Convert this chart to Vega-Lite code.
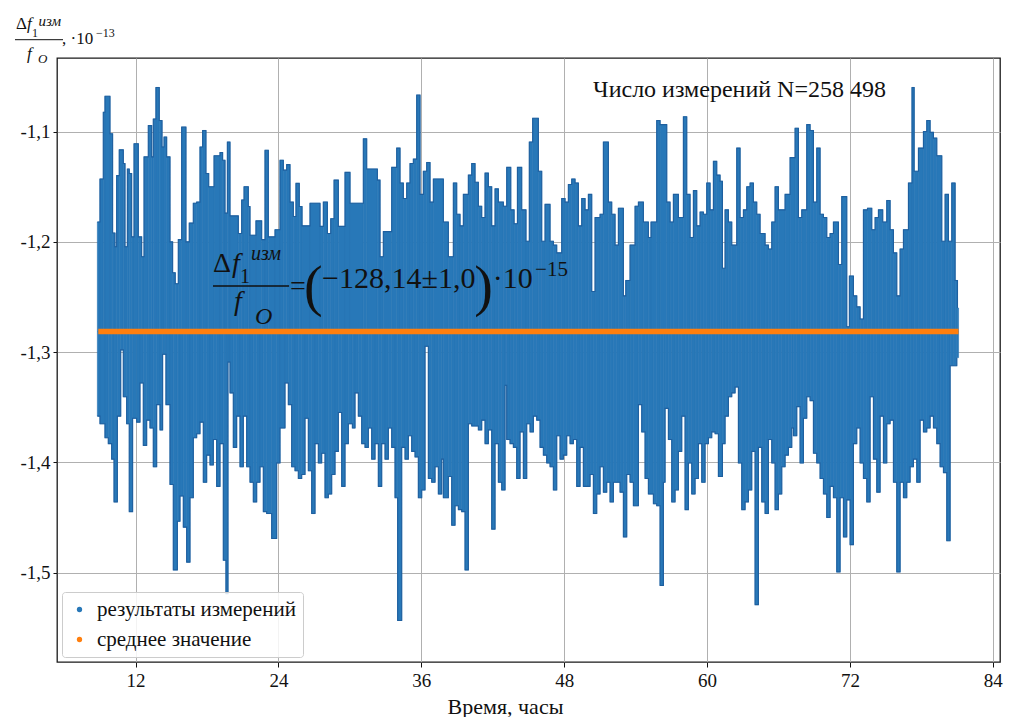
{
"$schema": "https://vega.github.io/schema/vega-lite/v6.json",
"width": 943, "height": 604,
"autosize": {"type": "none"},
"padding": {"left": 57, "top": 58, "right": 9, "bottom": 55},
"background": "white",
"config": {
  "view": {"stroke": "#1a1a1a", "strokeWidth": 1.3},
  "font": "Liberation Serif",
  "axis": {"labelFont": "Liberation Serif", "labelColor": "#111111", "labelFontSize": 19, "gridColor": "#b0b0b0", "gridWidth": 1, "domain": false, "tickColor": "#111111", "tickSize": 5, "tickWidth": 1}
},
"datasets": {
"one": [{"k": 1}],
"upper": [
{"t0":8.79,"t1":9.01,"v":-1.182},{"t0":9.01,"t1":9.29,"v":-1.143},{"t0":9.29,"t1":9.43,"v":-1.0825},{"t0":9.43,"t1":9.85,"v":-1.068},{"t0":9.85,"t1":10.07,"v":-1.102},{"t0":10.07,"t1":10.27,"v":-1.192},{"t0":10.27,"t1":10.41,"v":-1.2045},{"t0":10.41,"t1":10.63,"v":-1.14},{"t0":10.63,"t1":10.97,"v":-1.1166},{"t0":10.97,"t1":11.11,"v":-1.129},{"t0":11.11,"t1":11.31,"v":-1.2045},{"t0":11.31,"t1":11.47,"v":-1.134},{"t0":11.47,"t1":11.67,"v":-1.138},{"t0":11.67,"t1":11.87,"v":-1.1955},{"t0":11.87,"t1":12.23,"v":-1.111},{"t0":12.23,"t1":12.51,"v":-1.1955},{"t0":12.51,"t1":12.71,"v":-1.2135},{"t0":12.71,"t1":13.07,"v":-1.123},{"t0":13.07,"t1":13.35,"v":-1.0946},{"t0":13.35,"t1":13.49,"v":-1.123},{"t0":13.49,"t1":13.71,"v":-1.0886},{"t0":13.71,"t1":13.99,"v":-1.06},{"t0":13.99,"t1":14.22,"v":-1.09},{"t0":14.22,"t1":14.39,"v":-1.114},{"t0":14.39,"t1":14.61,"v":-1.105},{"t0":14.61,"t1":14.89,"v":-1.123},{"t0":14.89,"t1":15.11,"v":-1.2},{"t0":15.11,"t1":15.33,"v":-1.228},{"t0":15.33,"t1":15.59,"v":-1.238},{"t0":15.59,"t1":15.87,"v":-1.198},{"t0":15.87,"t1":16.23,"v":-1.096},{"t0":16.23,"t1":16.51,"v":-1.2},{"t0":16.51,"t1":16.85,"v":-1.183},{"t0":16.85,"t1":17.13,"v":-1.165},{"t0":17.13,"t1":17.41,"v":-1.164},{"t0":17.41,"t1":17.63,"v":-1.114},{"t0":17.63,"t1":17.91,"v":-1.099},{"t0":17.91,"t1":18.14,"v":-1.138},{"t0":18.14,"t1":18.59,"v":-1.15},{"t0":18.59,"t1":19.09,"v":-1.122},{"t0":19.09,"t1":19.31,"v":-1.119},{"t0":19.31,"t1":19.51,"v":-1.126},{"t0":19.51,"t1":19.71,"v":-1.174},{"t0":19.71,"t1":19.93,"v":-1.1096},{"t0":19.93,"t1":20.63,"v":-1.1765},{"t0":20.63,"t1":20.91,"v":-1.1925},{"t0":20.91,"t1":21.11,"v":-1.162},{"t0":21.11,"t1":21.47,"v":-1.15},{"t0":21.47,"t1":21.61,"v":-1.168},{"t0":21.61,"t1":22.11,"v":-1.194},{"t0":22.11,"t1":22.59,"v":-1.181},{"t0":22.59,"t1":22.87,"v":-1.198},{"t0":22.87,"t1":23.15,"v":-1.117},{"t0":23.15,"t1":23.71,"v":-1.1955},{"t0":23.71,"t1":24.13,"v":-1.189},{"t0":24.13,"t1":24.41,"v":-1.126},{"t0":24.41,"t1":24.69,"v":-1.135},{"t0":24.69,"t1":24.97,"v":-1.13},{"t0":24.97,"t1":25.25,"v":-1.164},{"t0":25.25,"t1":25.47,"v":-1.177},{"t0":25.47,"t1":25.75,"v":-1.147},{"t0":25.75,"t1":25.98,"v":-1.168},{"t0":25.98,"t1":26.65,"v":-1.1855},{"t0":26.65,"t1":27.49,"v":-1.165},{"t0":27.49,"t1":27.77,"v":-1.186},{"t0":27.77,"t1":28.11,"v":-1.164},{"t0":28.11,"t1":28.39,"v":-1.1925},{"t0":28.39,"t1":28.67,"v":-1.179},{"t0":28.67,"t1":29.03,"v":-1.144},{"t0":29.03,"t1":29.59,"v":-1.186},{"t0":29.59,"t1":30.01,"v":-1.137},{"t0":30.01,"t1":31.13,"v":-1.165},{"t0":31.13,"t1":31.41,"v":-1.1066},{"t0":31.41,"t1":32.31,"v":-1.134},{"t0":32.31,"t1":32.53,"v":-1.144},{"t0":32.53,"t1":32.81,"v":-1.2135},{"t0":32.81,"t1":33.51,"v":-1.1907},{"t0":33.51,"t1":33.93,"v":-1.1325},{"t0":33.93,"t1":34.21,"v":-1.115},{"t0":34.21,"t1":34.49,"v":-1.1466},{"t0":34.49,"t1":34.77,"v":-1.1607},{"t0":34.77,"t1":35.05,"v":-1.1466},{"t0":35.05,"t1":35.33,"v":-1.129},{"t0":35.33,"t1":35.61,"v":-1.125},{"t0":35.61,"t1":35.89,"v":-1.067},{"t0":35.89,"t1":36.17,"v":-1.157},{"t0":36.17,"t1":36.45,"v":-1.136},{"t0":36.45,"t1":36.73,"v":-1.128},{"t0":36.73,"t1":37.01,"v":-1.164},{"t0":37.01,"t1":37.85,"v":-1.143},{"t0":37.85,"t1":38.27,"v":-1.182},{"t0":38.27,"t1":38.69,"v":-1.2135},{"t0":38.69,"t1":38.97,"v":-1.1466},{"t0":38.97,"t1":39.25,"v":-1.175},{"t0":39.25,"t1":39.53,"v":-1.1855},{"t0":39.53,"t1":39.95,"v":-1.157},{"t0":39.95,"t1":40.23,"v":-1.1395},{"t0":40.23,"t1":40.51,"v":-1.129},{"t0":40.51,"t1":40.79,"v":-1.146},{"t0":40.79,"t1":41.07,"v":-1.1677},{"t0":41.07,"t1":41.35,"v":-1.178},{"t0":41.35,"t1":41.63,"v":-1.1377},{"t0":41.63,"t1":41.91,"v":-1.15},{"t0":41.91,"t1":42.19,"v":-1.1855},{"t0":42.19,"t1":42.47,"v":-1.152},{"t0":42.47,"t1":42.89,"v":-1.164},{"t0":42.89,"t1":43.17,"v":-1.1677},{"t0":43.17,"t1":43.51,"v":-1.1325},{"t0":43.51,"t1":43.79,"v":-1.171},{"t0":43.79,"t1":44.07,"v":-1.1836},{"t0":44.07,"t1":44.43,"v":-1.1325},{"t0":44.43,"t1":44.79,"v":-1.171},{"t0":44.79,"t1":45.07,"v":-1.1995},{"t0":45.07,"t1":45.35,"v":-1.1095},{"t0":45.35,"t1":45.83,"v":-1.088},{"t0":45.83,"t1":46.11,"v":-1.136},{"t0":46.11,"t1":46.39,"v":-1.1995},{"t0":46.39,"t1":46.81,"v":-1.166},{"t0":46.81,"t1":47.09,"v":-1.1995},{"t0":47.09,"t1":47.37,"v":-1.203},{"t0":47.37,"t1":47.79,"v":-1.21},{"t0":47.79,"t1":48.07,"v":-1.1607},{"t0":48.07,"t1":48.35,"v":-1.164},{"t0":48.35,"t1":48.63,"v":-1.148},{"t0":48.63,"t1":48.91,"v":-1.143},{"t0":48.91,"t1":49.19,"v":-1.1466},{"t0":49.19,"t1":49.47,"v":-1.1855},{"t0":49.47,"t1":49.75,"v":-1.1607},{"t0":49.75,"t1":50.03,"v":-1.171},{"t0":50.03,"t1":50.31,"v":-1.157},{"t0":50.31,"t1":50.59,"v":-1.245},{"t0":50.59,"t1":51.01,"v":-1.178},{"t0":51.01,"t1":51.29,"v":-1.175},{"t0":51.29,"t1":51.71,"v":-1.1095},{"t0":51.71,"t1":51.99,"v":-1.164},{"t0":51.99,"t1":52.27,"v":-1.175},{"t0":52.27,"t1":52.55,"v":-1.203},{"t0":52.55,"t1":52.97,"v":-1.1695},{"t0":52.97,"t1":53.17,"v":-1.249},{"t0":53.17,"t1":53.53,"v":-1.235},{"t0":53.53,"t1":53.95,"v":-1.203},{"t0":53.95,"t1":54.23,"v":-1.1677},{"t0":54.23,"t1":54.65,"v":-1.164},{"t0":54.65,"t1":55.07,"v":-1.182},{"t0":55.07,"t1":55.29,"v":-1.196},{"t0":55.29,"t1":55.77,"v":-1.182},{"t0":55.77,"t1":56.05,"v":-1.09},{"t0":56.05,"t1":56.61,"v":-1.0937},{"t0":56.61,"t1":56.89,"v":-1.164},{"t0":56.89,"t1":57.17,"v":-1.182},{"t0":57.17,"t1":57.59,"v":-1.157},{"t0":57.59,"t1":58.01,"v":-1.178},{"t0":58.01,"t1":58.29,"v":-1.0866},{"t0":58.29,"t1":58.57,"v":-1.157},{"t0":58.57,"t1":58.85,"v":-1.196},{"t0":58.85,"t1":59.13,"v":-1.1536},{"t0":59.13,"t1":59.41,"v":-1.1855},{"t0":59.41,"t1":59.69,"v":-1.173},{"t0":59.69,"t1":59.97,"v":-1.175},{"t0":59.97,"t1":60.25,"v":-1.1466},{"t0":60.25,"t1":60.53,"v":-1.171},{"t0":60.53,"t1":60.81,"v":-1.127},{"t0":60.81,"t1":61.09,"v":-1.1395},{"t0":61.09,"t1":61.29,"v":-1.145},{"t0":61.29,"t1":61.51,"v":-1.224},{"t0":61.51,"t1":61.79,"v":-1.171},{"t0":61.79,"t1":62.07,"v":-1.182},{"t0":62.07,"t1":62.49,"v":-1.203},{"t0":62.49,"t1":62.77,"v":-1.115},{"t0":62.77,"t1":63.05,"v":-1.178},{"t0":63.05,"t1":63.33,"v":-1.171},{"t0":63.33,"t1":63.61,"v":-1.15},{"t0":63.61,"t1":63.89,"v":-1.1466},{"t0":63.89,"t1":64.17,"v":-1.164},{"t0":64.17,"t1":64.45,"v":-1.175},{"t0":64.45,"t1":64.87,"v":-1.1925},{"t0":64.87,"t1":65.15,"v":-1.203},{"t0":65.15,"t1":65.43,"v":-1.2065},{"t0":65.43,"t1":65.71,"v":-1.182},{"t0":65.71,"t1":65.99,"v":-1.15},{"t0":65.99,"t1":66.55,"v":-1.171},{"t0":66.55,"t1":66.97,"v":-1.157},{"t0":66.97,"t1":67.39,"v":-1.1236},{"t0":67.39,"t1":67.67,"v":-1.097},{"t0":67.67,"t1":67.95,"v":-1.178},{"t0":67.95,"t1":68.37,"v":-1.171},{"t0":68.37,"t1":68.65,"v":-1.0937},{"t0":68.65,"t1":68.93,"v":-1.099},{"t0":68.93,"t1":69.21,"v":-1.164},{"t0":69.21,"t1":69.49,"v":-1.115},{"t0":69.49,"t1":69.77,"v":-1.175},{"t0":69.77,"t1":70.05,"v":-1.178},{"t0":70.05,"t1":70.33,"v":-1.196},{"t0":70.33,"t1":70.61,"v":-1.1925},{"t0":70.61,"t1":71.03,"v":-1.182},{"t0":71.03,"t1":71.31,"v":-1.2205},{"t0":71.31,"t1":71.73,"v":-1.159},{"t0":71.73,"t1":71.95,"v":-1.277},{"t0":71.95,"t1":72.29,"v":-1.231},{"t0":72.29,"t1":72.57,"v":-1.249},{"t0":72.57,"t1":72.85,"v":-1.259},{"t0":72.85,"t1":73.13,"v":-1.27},{"t0":73.13,"t1":73.47,"v":-1.171},{"t0":73.47,"t1":73.83,"v":-1.1695},{"t0":73.83,"t1":74.11,"v":-1.189},{"t0":74.11,"t1":74.39,"v":-1.178},{"t0":74.39,"t1":74.75,"v":-1.171},{"t0":74.75,"t1":75.09,"v":-1.182},{"t0":75.09,"t1":75.37,"v":-1.1625},{"t0":75.37,"t1":75.65,"v":-1.189},{"t0":75.65,"t1":75.93,"v":-1.21},{"t0":75.93,"t1":76.21,"v":-1.249},{"t0":76.21,"t1":76.49,"v":-1.2065},{"t0":76.49,"t1":76.91,"v":-1.189},{"t0":76.91,"t1":77.21,"v":-1.1466},{"t0":77.21,"t1":77.39,"v":-1.06},{"t0":77.39,"t1":77.75,"v":-1.136},{"t0":77.75,"t1":78.17,"v":-1.115},{"t0":78.17,"t1":78.45,"v":-1.1},{"t0":78.45,"t1":78.73,"v":-1.09},{"t0":78.73,"t1":79.01,"v":-1.1007},{"t0":79.01,"t1":79.29,"v":-1.106},{"t0":79.29,"t1":79.71,"v":-1.122},{"t0":79.71,"t1":79.99,"v":-1.1995},{"t0":79.99,"t1":80.27,"v":-1.157},{"t0":80.27,"t1":80.55,"v":-1.1995},{"t0":80.55,"t1":80.83,"v":-1.1466},{"t0":80.83,"t1":81.03,"v":-1.235},{"t0":81.03,"t1":81.12,"v":-1.26}
],
"lower": [
{"t0":8.79,"t1":9.01,"v":-1.358},{"t0":9.01,"t1":9.43,"v":-1.365},{"t0":9.43,"t1":9.71,"v":-1.3776},{"t0":9.71,"t1":9.99,"v":-1.383},{"t0":9.99,"t1":10.19,"v":-1.397},{"t0":10.19,"t1":10.47,"v":-1.4358},{"t0":10.47,"t1":10.75,"v":-1.358},{"t0":10.75,"t1":10.97,"v":-1.298},{"t0":10.97,"t1":11.25,"v":-1.3405},{"t0":11.25,"t1":11.47,"v":-1.365},{"t0":11.47,"t1":11.75,"v":-1.4446},{"t0":11.75,"t1":12.09,"v":-1.36},{"t0":12.09,"t1":12.37,"v":-1.3635},{"t0":12.37,"t1":12.65,"v":-1.328},{"t0":12.65,"t1":12.93,"v":-1.3846},{"t0":12.93,"t1":13.21,"v":-1.3617},{"t0":13.21,"t1":13.49,"v":-1.3688},{"t0":13.49,"t1":13.77,"v":-1.404},{"t0":13.77,"t1":14.05,"v":-1.3476},{"t0":14.05,"t1":14.27,"v":-1.3705},{"t0":14.27,"t1":14.55,"v":-1.302},{"t0":14.55,"t1":14.89,"v":-1.3476},{"t0":14.89,"t1":15.17,"v":-1.42},{"t0":15.17,"t1":15.51,"v":-1.4975},{"t0":15.51,"t1":15.73,"v":-1.4534},{"t0":15.73,"t1":16.01,"v":-1.4305},{"t0":16.01,"t1":16.29,"v":-1.4587},{"t0":16.29,"t1":16.57,"v":-1.4904},{"t0":16.57,"t1":16.85,"v":-1.432},{"t0":16.85,"t1":17.13,"v":-1.3776},{"t0":17.13,"t1":17.41,"v":-1.374},{"t0":17.41,"t1":17.69,"v":-1.3635},{"t0":17.69,"t1":17.97,"v":-1.418},{"t0":17.97,"t1":18.25,"v":-1.3934},{"t0":18.25,"t1":18.53,"v":-1.4023},{"t0":18.53,"t1":18.81,"v":-1.3793},{"t0":18.81,"t1":19.09,"v":-1.4217},{"t0":19.09,"t1":19.37,"v":-1.383},{"t0":19.37,"t1":19.59,"v":-1.4887},{"t0":19.59,"t1":19.76,"v":-1.519},{"t0":19.76,"t1":19.93,"v":-1.309},{"t0":19.93,"t1":20.21,"v":-1.337},{"t0":20.21,"t1":20.49,"v":-1.3864},{"t0":20.49,"t1":20.77,"v":-1.358},{"t0":20.77,"t1":21.05,"v":-1.404},{"t0":21.05,"t1":21.33,"v":-1.358},{"t0":21.33,"t1":21.61,"v":-1.404},{"t0":21.61,"t1":21.89,"v":-1.418},{"t0":21.89,"t1":22.17,"v":-1.4358},{"t0":22.17,"t1":22.45,"v":-1.418},{"t0":22.45,"t1":22.73,"v":-1.404},{"t0":22.73,"t1":23.01,"v":-1.4446},{"t0":23.01,"t1":23.43,"v":-1.4464},{"t0":23.43,"t1":23.85,"v":-1.469},{"t0":23.85,"t1":24.13,"v":-1.4005},{"t0":24.13,"t1":24.55,"v":-1.3688},{"t0":24.55,"t1":24.83,"v":-1.328},{"t0":24.83,"t1":25.11,"v":-1.3476},{"t0":25.11,"t1":25.39,"v":-1.404},{"t0":25.39,"t1":25.67,"v":-1.4076},{"t0":25.67,"t1":25.95,"v":-1.4146},{"t0":25.95,"t1":26.23,"v":-1.411},{"t0":26.23,"t1":26.51,"v":-1.36},{"t0":26.51,"t1":26.79,"v":-1.4076},{"t0":26.79,"t1":27.07,"v":-1.4464},{"t0":27.07,"t1":27.35,"v":-1.383},{"t0":27.35,"t1":27.63,"v":-1.4005},{"t0":27.63,"t1":27.91,"v":-1.3917},{"t0":27.91,"t1":28.19,"v":-1.432},{"t0":28.19,"t1":28.47,"v":-1.4287},{"t0":28.47,"t1":28.75,"v":-1.411},{"t0":28.75,"t1":29.03,"v":-1.39},{"t0":29.03,"t1":29.31,"v":-1.3547},{"t0":29.31,"t1":29.59,"v":-1.4217},{"t0":29.59,"t1":29.87,"v":-1.383},{"t0":29.87,"t1":30.21,"v":-1.365},{"t0":30.21,"t1":30.43,"v":-1.3688},{"t0":30.43,"t1":30.71,"v":-1.337},{"t0":30.71,"t1":30.99,"v":-1.358},{"t0":30.99,"t1":31.27,"v":-1.383},{"t0":31.27,"t1":31.55,"v":-1.3864},{"t0":31.55,"t1":31.83,"v":-1.3688},{"t0":31.83,"t1":32.11,"v":-1.397},{"t0":32.11,"t1":32.39,"v":-1.383},{"t0":32.39,"t1":32.67,"v":-1.4217},{"t0":32.67,"t1":32.95,"v":-1.383},{"t0":32.95,"t1":33.23,"v":-1.397},{"t0":33.23,"t1":33.51,"v":-1.3688},{"t0":33.51,"t1":33.79,"v":-1.3864},{"t0":33.79,"t1":34.01,"v":-1.432},{"t0":34.01,"t1":34.35,"v":-1.5433},{"t0":34.35,"t1":34.63,"v":-1.3864},{"t0":34.63,"t1":34.91,"v":-1.397},{"t0":34.91,"t1":35.19,"v":-1.3758},{"t0":35.19,"t1":35.47,"v":-1.39},{"t0":35.47,"t1":35.75,"v":-1.395},{"t0":35.75,"t1":36.03,"v":-1.432},{"t0":36.03,"t1":36.31,"v":-1.425},{"t0":36.31,"t1":36.59,"v":-1.2947},{"t0":36.59,"t1":36.87,"v":-1.4146},{"t0":36.87,"t1":37.15,"v":-1.418},{"t0":37.15,"t1":37.43,"v":-1.404},{"t0":37.43,"t1":37.71,"v":-1.4287},{"t0":37.71,"t1":37.85,"v":-1.397},{"t0":37.85,"t1":38.27,"v":-1.432},{"t0":38.27,"t1":38.55,"v":-1.4128},{"t0":38.55,"t1":38.83,"v":-1.457},{"t0":38.83,"t1":39.11,"v":-1.4393},{"t0":39.11,"t1":39.39,"v":-1.4428},{"t0":39.39,"t1":39.67,"v":-1.4446},{"t0":39.67,"t1":39.95,"v":-1.4975},{"t0":39.95,"t1":40.23,"v":-1.365},{"t0":40.23,"t1":40.51,"v":-1.367},{"t0":40.51,"t1":40.79,"v":-1.367},{"t0":40.79,"t1":41.07,"v":-1.3705},{"t0":41.07,"t1":41.35,"v":-1.3617},{"t0":41.35,"t1":41.63,"v":-1.383},{"t0":41.63,"t1":41.91,"v":-1.3705},{"t0":41.91,"t1":42.19,"v":-1.4605},{"t0":42.19,"t1":42.47,"v":-1.383},{"t0":42.47,"t1":42.75,"v":-1.418},{"t0":42.75,"t1":43.03,"v":-1.425},{"t0":43.03,"t1":43.17,"v":-1.33},{"t0":43.17,"t1":43.45,"v":-1.3793},{"t0":43.45,"t1":43.73,"v":-1.383},{"t0":43.73,"t1":44.01,"v":-1.3864},{"t0":44.01,"t1":44.29,"v":-1.4146},{"t0":44.29,"t1":44.57,"v":-1.3723},{"t0":44.57,"t1":44.85,"v":-1.4146},{"t0":44.85,"t1":45.13,"v":-1.365},{"t0":45.13,"t1":45.41,"v":-1.3723},{"t0":45.41,"t1":45.69,"v":-1.358},{"t0":45.69,"t1":45.97,"v":-1.3617},{"t0":45.97,"t1":46.25,"v":-1.3864},{"t0":46.25,"t1":46.53,"v":-1.3934},{"t0":46.53,"t1":46.81,"v":-1.4005},{"t0":46.81,"t1":47.09,"v":-1.404},{"t0":47.09,"t1":47.37,"v":-1.425},{"t0":47.37,"t1":47.65,"v":-1.3758},{"t0":47.65,"t1":47.93,"v":-1.397},{"t0":47.93,"t1":48.21,"v":-1.3934},{"t0":48.21,"t1":48.49,"v":-1.3758},{"t0":48.49,"t1":48.77,"v":-1.383},{"t0":48.77,"t1":49.05,"v":-1.3793},{"t0":49.05,"t1":49.33,"v":-1.4217},{"t0":49.33,"t1":49.61,"v":-1.3864},{"t0":49.61,"t1":49.89,"v":-1.4217},{"t0":49.89,"t1":50.17,"v":-1.4217},{"t0":50.17,"t1":50.45,"v":-1.411},{"t0":50.45,"t1":50.73,"v":-1.4464},{"t0":50.73,"t1":51.01,"v":-1.4287},{"t0":51.01,"t1":51.29,"v":-1.404},{"t0":51.29,"t1":51.57,"v":-1.427},{"t0":51.57,"t1":51.85,"v":-1.418},{"t0":51.85,"t1":52.13,"v":-1.4358},{"t0":52.13,"t1":52.41,"v":-1.418},{"t0":52.41,"t1":52.69,"v":-1.418},{"t0":52.69,"t1":52.97,"v":-1.427},{"t0":52.97,"t1":53.25,"v":-1.4675},{"t0":53.25,"t1":53.53,"v":-1.411},{"t0":53.53,"t1":53.81,"v":-1.418},{"t0":53.81,"t1":54.23,"v":-1.4393},{"t0":54.23,"t1":54.51,"v":-1.3476},{"t0":54.51,"t1":54.79,"v":-1.3723},{"t0":54.79,"t1":55.07,"v":-1.4146},{"t0":55.07,"t1":55.49,"v":-1.4287},{"t0":55.49,"t1":55.77,"v":-1.4375},{"t0":55.77,"t1":56.05,"v":-1.4393},{"t0":56.05,"t1":56.33,"v":-1.5116},{"t0":56.33,"t1":56.47,"v":-1.418},{"t0":56.47,"t1":56.75,"v":-1.351},{"t0":56.75,"t1":57.03,"v":-1.3793},{"t0":57.03,"t1":57.31,"v":-1.4358},{"t0":57.31,"t1":57.59,"v":-1.425},{"t0":57.59,"t1":57.87,"v":-1.39},{"t0":57.87,"t1":58.15,"v":-1.358},{"t0":58.15,"t1":58.43,"v":-1.4428},{"t0":58.43,"t1":58.71,"v":-1.4005},{"t0":58.71,"t1":58.99,"v":-1.4287},{"t0":58.99,"t1":59.27,"v":-1.4146},{"t0":59.27,"t1":59.55,"v":-1.383},{"t0":59.55,"t1":59.83,"v":-1.418},{"t0":59.83,"t1":60.11,"v":-1.383},{"t0":60.11,"t1":60.39,"v":-1.3776},{"t0":60.39,"t1":60.67,"v":-1.3723},{"t0":60.67,"t1":60.95,"v":-1.374},{"t0":60.95,"t1":61.29,"v":-1.4128},{"t0":61.29,"t1":61.51,"v":-1.383},{"t0":61.51,"t1":61.79,"v":-1.358},{"t0":61.79,"t1":62.07,"v":-1.3405},{"t0":62.07,"t1":62.35,"v":-1.337},{"t0":62.35,"t1":62.63,"v":-1.3317},{"t0":62.63,"t1":62.91,"v":-1.4005},{"t0":62.91,"t1":63.19,"v":-1.4428},{"t0":63.19,"t1":63.47,"v":-1.4358},{"t0":63.47,"t1":63.75,"v":-1.425},{"t0":63.75,"t1":64.03,"v":-1.39},{"t0":64.03,"t1":64.31,"v":-1.529},{"t0":64.31,"t1":64.59,"v":-1.3864},{"t0":64.59,"t1":64.87,"v":-1.4358},{"t0":64.87,"t1":65.15,"v":-1.4464},{"t0":65.15,"t1":65.43,"v":-1.3793},{"t0":65.43,"t1":65.71,"v":-1.4005},{"t0":65.71,"t1":65.99,"v":-1.4428},{"t0":65.99,"t1":66.27,"v":-1.4287},{"t0":66.27,"t1":66.55,"v":-1.404},{"t0":66.55,"t1":66.83,"v":-1.3934},{"t0":66.83,"t1":67.11,"v":-1.3864},{"t0":67.11,"t1":67.25,"v":-1.3688},{"t0":67.25,"t1":67.53,"v":-1.3758},{"t0":67.53,"t1":67.81,"v":-1.3494},{"t0":67.81,"t1":68.09,"v":-1.4005},{"t0":68.09,"t1":68.37,"v":-1.36},{"t0":68.37,"t1":68.65,"v":-1.3405},{"t0":68.65,"t1":68.93,"v":-1.344},{"t0":68.93,"t1":69.21,"v":-1.3917},{"t0":69.21,"t1":69.49,"v":-1.4005},{"t0":69.49,"t1":69.77,"v":-1.4146},{"t0":69.77,"t1":70.05,"v":-1.4287},{"t0":70.05,"t1":70.33,"v":-1.45},{"t0":70.33,"t1":70.61,"v":-1.4217},{"t0":70.61,"t1":70.89,"v":-1.432},{"t0":70.89,"t1":71.17,"v":-1.4993},{"t0":71.17,"t1":71.45,"v":-1.432},{"t0":71.45,"t1":71.73,"v":-1.4675},{"t0":71.73,"t1":72.01,"v":-1.434},{"t0":72.01,"t1":72.29,"v":-1.4746},{"t0":72.29,"t1":72.57,"v":-1.383},{"t0":72.57,"t1":72.85,"v":-1.3688},{"t0":72.85,"t1":73.13,"v":-1.4005},{"t0":73.13,"t1":73.41,"v":-1.4146},{"t0":73.41,"t1":73.69,"v":-1.4358},{"t0":73.69,"t1":73.97,"v":-1.3405},{"t0":73.97,"t1":74.25,"v":-1.397},{"t0":74.25,"t1":74.53,"v":-1.427},{"t0":74.53,"t1":74.81,"v":-1.358},{"t0":74.81,"t1":75.09,"v":-1.4005},{"t0":75.09,"t1":75.37,"v":-1.365},{"t0":75.37,"t1":75.65,"v":-1.3617},{"t0":75.65,"t1":75.93,"v":-1.418},{"t0":75.93,"t1":76.21,"v":-1.4993},{"t0":76.21,"t1":76.49,"v":-1.418},{"t0":76.49,"t1":76.77,"v":-1.432},{"t0":76.77,"t1":77.05,"v":-1.418},{"t0":77.05,"t1":77.33,"v":-1.404},{"t0":77.33,"t1":77.61,"v":-1.397},{"t0":77.61,"t1":77.89,"v":-1.418},{"t0":77.89,"t1":78.17,"v":-1.3617},{"t0":78.17,"t1":78.45,"v":-1.3723},{"t0":78.45,"t1":78.73,"v":-1.3688},{"t0":78.73,"t1":79.01,"v":-1.358},{"t0":79.01,"t1":79.29,"v":-1.3688},{"t0":79.29,"t1":79.57,"v":-1.383},{"t0":79.57,"t1":79.85,"v":-1.404},{"t0":79.85,"t1":80.13,"v":-1.4093},{"t0":80.13,"t1":80.41,"v":-1.471},{"t0":80.41,"t1":80.69,"v":-1.3123},{"t0":80.69,"t1":80.97,"v":-1.3123},{"t0":80.97,"t1":81.12,"v":-1.305}
]
},
"layer": [
{
  "data": {"name": "upper"},
  "mark": {"type": "rect", "stroke": "#2674b3", "strokeWidth": 0.6},
  "encoding": {
    "x": {"field": "t0", "type": "quantitative", "scale": {"domain": [5.4, 84.6], "nice": false, "zero": false},
      "axis": {"values": [12, 24, 36, 48, 60, 72, 84], "grid": true, "labelPadding": 4, "labelFontSize": 19,
        "title": "Время, часы", "titleFont": "Liberation Serif", "titleFontSize": 22, "titleFontWeight": "normal", "titleColor": "#111111",
        "titleX": 448, "titleY": 51, "titleBaseline": "alphabetic", "titleAnchor": "middle", "titleAlign": "center"}},
    "x2": {"field": "t1"},
    "y": {"field": "v", "type": "quantitative", "scale": {"domain": [-1.581, -1.0333], "nice": false, "zero": false},
      "axis": {"values": [-1.5, -1.4, -1.3, -1.2, -1.1], "grid": true, "title": null, "tickSize": 4, "labelPadding": 3, "labelFontSize": 19,
        "labelExpr": "replace(replace(format(datum.value, '.1f'), '.', ','), '−', '-')"}},
    "y2": {"datum": -1.2814},
    "color": {"datum": "результаты измерений", "type": "nominal",
      "scale": {"domain": ["результаты измерений", "среднее значение"], "range": ["#2878b8", "#ff7f0e"]},
      "legend": {"orient": "bottom-left", "offset": 5, "title": null, "labelFont": "Liberation Serif", "labelFontSize": 21, "labelColor": "#111111", "labelLimit": 0,
        "symbolType": "circle", "symbolSize": 28, "strokeColor": "#cccccc", "fillColor": "rgba(255,255,255,0.85)", "padding": 7, "rowPadding": 8,
        "cornerRadius": 3, "labelOffset": 7, "symbolStrokeWidth": 0,
        "encode": {"symbols": {"update": {"fill": {"signal": "datum.value === 'среднее значение' ? '#e2742a' : '#1f4f8c'"}, "stroke": {"value": "transparent"}, "opacity": {"value": 1}}}}}}
  }
},
{
  "data": {"name": "lower"},
  "mark": {"type": "rect", "stroke": "#2674b3", "strokeWidth": 0.6},
  "encoding": {
    "x": {"field": "t0", "type": "quantitative"},
    "x2": {"field": "t1"},
    "y": {"field": "v", "type": "quantitative"},
    "y2": {"datum": -1.2814},
    "color": {"datum": "результаты измерений", "type": "nominal"}
  }
},
{
  "data": {"name": "upper"},
  "mark": {"type": "line", "interpolate": "step-after", "color": "#1e5f9f", "strokeWidth": 1.1},
  "encoding": {"x": {"field": "t0", "type": "quantitative"}, "y": {"field": "v", "type": "quantitative"}}
},
{
  "data": {"name": "lower"},
  "mark": {"type": "line", "interpolate": "step-after", "color": "#1e5f9f", "strokeWidth": 1.1},
  "encoding": {"x": {"field": "t0", "type": "quantitative"}, "y": {"field": "v", "type": "quantitative"}}
},
{
  "data": {"name": "one"},
  "mark": {"type": "rule", "strokeWidth": 5.5},
  "encoding": {"x": {"datum": 8.87, "type": "quantitative"}, "x2": {"datum": 81.12}, "y": {"datum": -1.2814, "type": "quantitative"}, "color": {"datum": "среднее значение", "type": "nominal"}}
},
{"data": {"name": "one"}, "mark": {"type": "text", "text": "Δ", "font": "Liberation Serif", "fontSize": 17, "align": "left", "baseline": "alphabetic", "color": "#111111"},
 "encoding": {"x": {"datum": 1.956, "type": "quantitative"}, "y": {"datum": -1.007, "type": "quantitative"}}},
{"data": {"name": "one"}, "mark": {"type": "text", "text": "f", "font": "Liberation Serif", "fontSize": 17, "fontStyle": "italic", "align": "left", "baseline": "alphabetic", "color": "#111111"},
 "encoding": {"x": {"datum": 2.88, "type": "quantitative"}, "y": {"datum": -1.007, "type": "quantitative"}}},
{"data": {"name": "one"}, "mark": {"type": "text", "text": "изм", "font": "Liberation Serif", "fontSize": 15, "fontStyle": "italic", "align": "left", "baseline": "alphabetic", "color": "#111111"},
 "encoding": {"x": {"datum": 3.85, "type": "quantitative"}, "y": {"datum": -1.0043, "type": "quantitative"}}},
{"data": {"name": "one"}, "mark": {"type": "text", "text": "1", "font": "Liberation Serif", "fontSize": 12, "align": "left", "baseline": "alphabetic", "color": "#111111"},
 "encoding": {"x": {"datum": 3.3, "type": "quantitative"}, "y": {"datum": -1.0143, "type": "quantitative"}}},
{"data": {"name": "one"}, "mark": {"type": "rule", "color": "#111111", "strokeWidth": 1},
 "encoding": {"x": {"datum": 1.872, "type": "quantitative"}, "x2": {"datum": 5.904}, "y": {"datum": -1.0167, "type": "quantitative"}}},
{"data": {"name": "one"}, "mark": {"type": "text", "text": "f", "font": "Liberation Serif", "fontSize": 17, "fontStyle": "italic", "align": "left", "baseline": "alphabetic", "color": "#111111"},
 "encoding": {"x": {"datum": 2.88, "type": "quantitative"}, "y": {"datum": -1.0342, "type": "quantitative"}}},
{"data": {"name": "one"}, "mark": {"type": "text", "text": "O", "font": "Liberation Serif", "fontSize": 13, "fontStyle": "italic", "align": "left", "baseline": "alphabetic", "color": "#111111"},
 "encoding": {"x": {"datum": 3.8, "type": "quantitative"}, "y": {"datum": -1.0378, "type": "quantitative"}}},
{"data": {"name": "one"}, "mark": {"type": "text", "text": ", ·10", "font": "Liberation Serif", "fontSize": 17, "align": "left", "baseline": "alphabetic", "color": "#111111"},
 "encoding": {"x": {"datum": 5.82, "type": "quantitative"}, "y": {"datum": -1.0206, "type": "quantitative"}}},
{"data": {"name": "one"}, "mark": {"type": "text", "text": "−13", "font": "Liberation Serif", "fontSize": 12, "align": "left", "baseline": "alphabetic", "color": "#111111"},
 "encoding": {"x": {"datum": 8.68, "type": "quantitative"}, "y": {"datum": -1.0143, "type": "quantitative"}}},
{"data": {"name": "one"}, "mark": {"type": "text", "text": "Δ", "font": "Liberation Serif", "fontSize": 28, "align": "left", "baseline": "alphabetic", "color": "#111111"},
 "encoding": {"x": {"datum": 18.5, "type": "quantitative"}, "y": {"datum": -1.2274, "type": "quantitative"}}},
{"data": {"name": "one"}, "mark": {"type": "text", "text": "f", "font": "Liberation Serif", "fontSize": 28, "fontStyle": "italic", "align": "left", "baseline": "alphabetic", "color": "#111111"},
 "encoding": {"x": {"datum": 20.1, "type": "quantitative"}, "y": {"datum": -1.2274, "type": "quantitative"}}},
{"data": {"name": "one"}, "mark": {"type": "text", "text": "изм", "font": "Liberation Serif", "fontSize": 20, "fontStyle": "italic", "align": "left", "baseline": "alphabetic", "color": "#111111"},
 "encoding": {"x": {"datum": 21.69, "type": "quantitative"}, "y": {"datum": -1.2165, "type": "quantitative"}}},
{"data": {"name": "one"}, "mark": {"type": "text", "text": "1", "font": "Liberation Serif", "fontSize": 20, "align": "left", "baseline": "alphabetic", "color": "#111111"},
 "encoding": {"x": {"datum": 20.77, "type": "quantitative"}, "y": {"datum": -1.2373, "type": "quantitative"}}},
{"data": {"name": "one"}, "mark": {"type": "rule", "color": "#111111", "strokeWidth": 1.4},
 "encoding": {"x": {"datum": 18.5, "type": "quantitative"}, "x2": {"datum": 24.89}, "y": {"datum": -1.24, "type": "quantitative"}}},
{"data": {"name": "one"}, "mark": {"type": "text", "text": "f", "font": "Liberation Serif", "fontSize": 28, "fontStyle": "italic", "align": "left", "baseline": "alphabetic", "color": "#111111"},
 "encoding": {"x": {"datum": 20.27, "type": "quantitative"}, "y": {"datum": -1.2618, "type": "quantitative"}}},
{"data": {"name": "one"}, "mark": {"type": "text", "text": "O", "font": "Liberation Serif", "fontSize": 24, "fontStyle": "italic", "align": "left", "baseline": "alphabetic", "color": "#111111"},
 "encoding": {"x": {"datum": 22.03, "type": "quantitative"}, "y": {"datum": -1.2745, "type": "quantitative"}}},
{"data": {"name": "one"}, "mark": {"type": "text", "text": "=", "font": "Liberation Serif", "fontSize": 28, "align": "left", "baseline": "alphabetic", "color": "#111111"},
 "encoding": {"x": {"datum": 24.97, "type": "quantitative"}, "y": {"datum": -1.2482, "type": "quantitative"}}},
{"data": {"name": "one"}, "mark": {"type": "text", "text": "(", "font": "Liberation Serif", "fontSize": 56, "align": "left", "baseline": "alphabetic", "color": "#111111"},
 "encoding": {"x": {"datum": 26.15, "type": "quantitative"}, "y": {"datum": -1.2575, "type": "quantitative"}}},
{"data": {"name": "one"}, "mark": {"type": "text", "text": "−128,14±1,0", "font": "Liberation Serif", "fontSize": 30, "align": "left", "baseline": "alphabetic", "color": "#111111"},
 "encoding": {"x": {"datum": 27.66, "type": "quantitative"}, "y": {"datum": -1.2419, "type": "quantitative"}}},
{"data": {"name": "one"}, "mark": {"type": "text", "text": ")", "font": "Liberation Serif", "fontSize": 56, "align": "left", "baseline": "alphabetic", "color": "#111111"},
 "encoding": {"x": {"datum": 40.45, "type": "quantitative"}, "y": {"datum": -1.2575, "type": "quantitative"}}},
{"data": {"name": "one"}, "mark": {"type": "text", "text": "·10", "font": "Liberation Serif", "fontSize": 30, "align": "left", "baseline": "alphabetic", "color": "#111111"},
 "encoding": {"x": {"datum": 42.0, "type": "quantitative"}, "y": {"datum": -1.2419, "type": "quantitative"}}},
{"data": {"name": "one"}, "mark": {"type": "text", "text": "−15", "font": "Liberation Serif", "fontSize": 21, "align": "left", "baseline": "alphabetic", "color": "#111111"},
 "encoding": {"x": {"datum": 45.55, "type": "quantitative"}, "y": {"datum": -1.231, "type": "quantitative"}}},
{"data": {"name": "one"}, "mark": {"type": "text", "text": "Число измерений N=258 498", "font": "Liberation Serif", "fontSize": 24, "align": "left", "baseline": "alphabetic", "color": "#111111"},
 "encoding": {"x": {"datum": 50.42, "type": "quantitative"}, "y": {"datum": -1.0687, "type": "quantitative"}}}
]
}
